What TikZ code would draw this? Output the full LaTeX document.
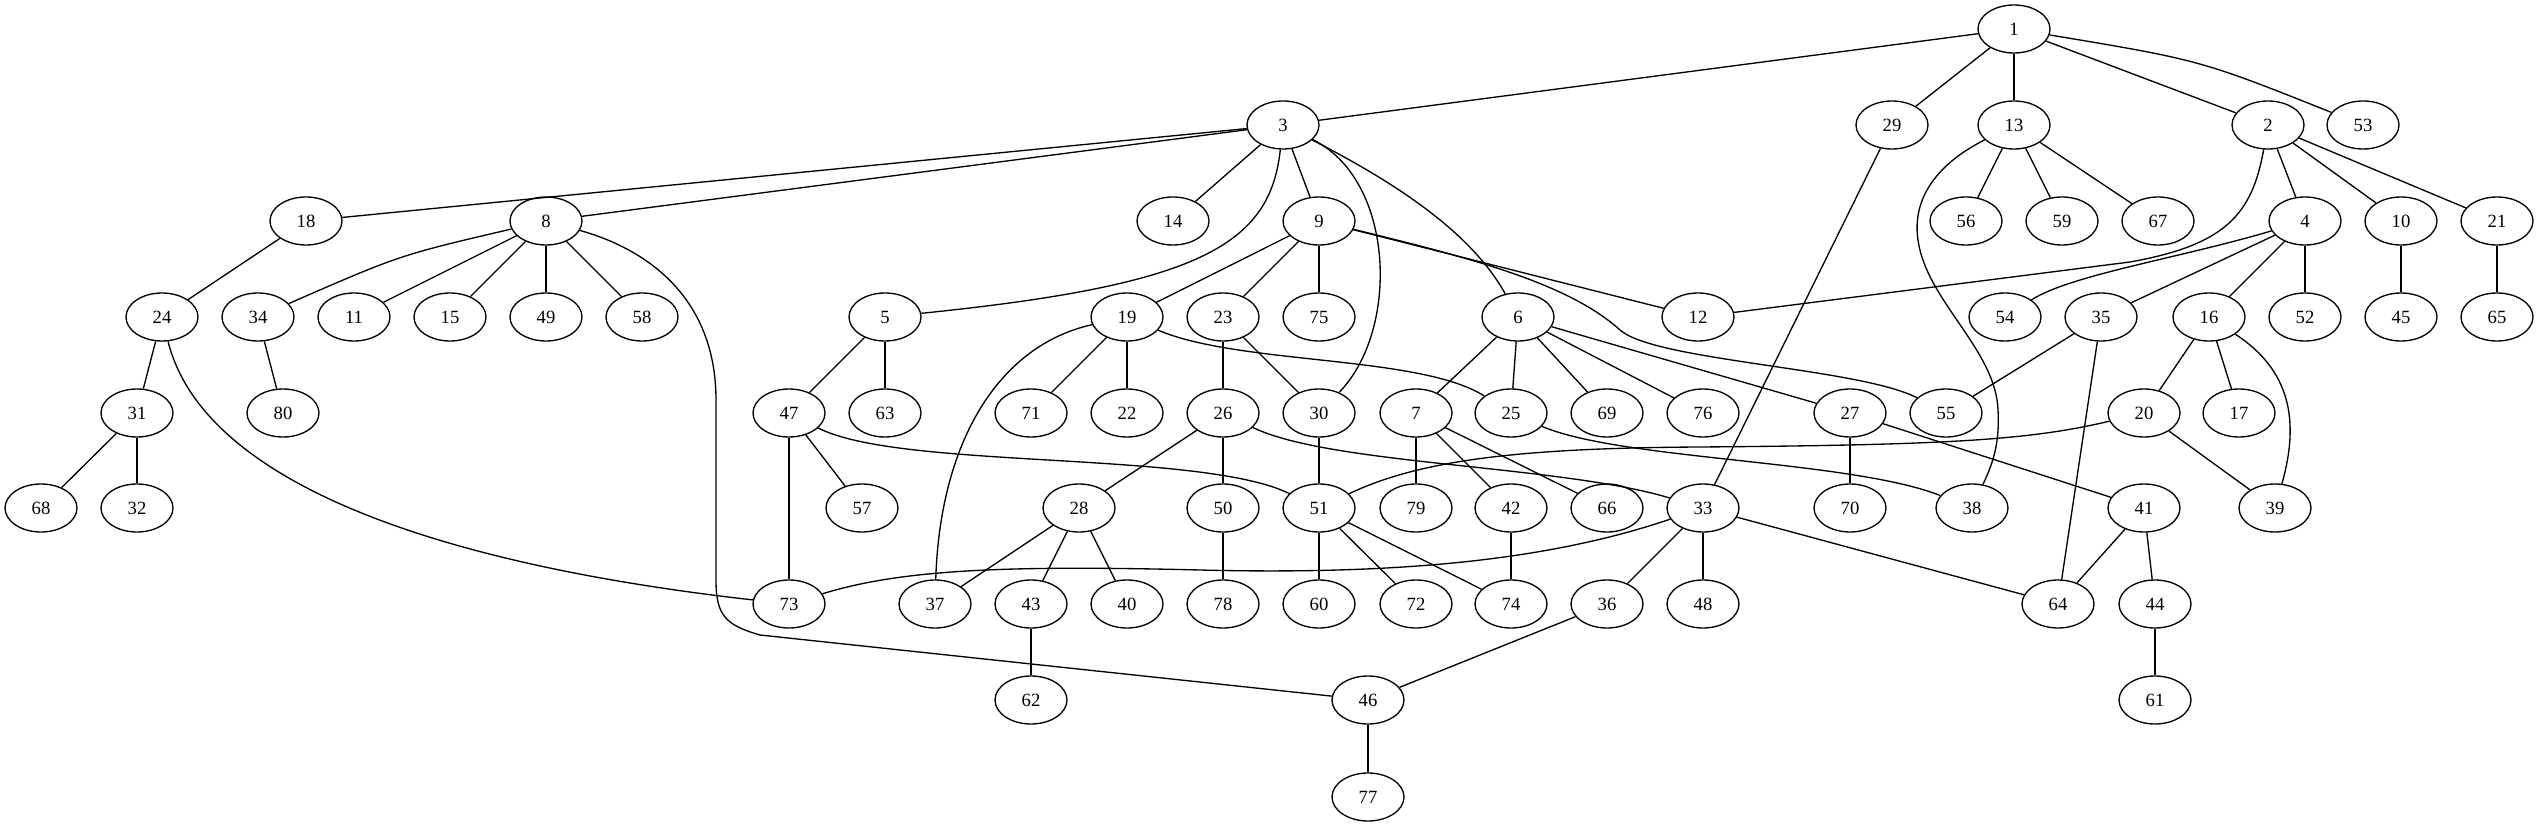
\documentclass[tikz,border=0pt]{standalone}
\usepackage{fontspec}
\setmainfont{Liberation Serif}
\usetikzlibrary{shapes.geometric}

\tikzset{
  vtx/.style={draw, ellipse, line width=1pt, minimum width=54pt, minimum height=36pt,
    inner sep=0pt, font=\fontsize{14}{16}\selectfont},
  edge/.style={line width=1pt}
}

\begin{document}
\begin{tikzpicture}[x=0.75pt, y=-0.75pt]
  \useasboundingbox (0,0) rectangle (2539,827);

  % ranks, top to bottom
  \node[vtx] (n1) at (2014,29) {1};
  \foreach \i/\x in {3/1283, 29/1892, 13/2014, 2/2268, 53/2363}
    \node[vtx] (n\i) at (\x,125) {\i};
  \foreach \i/\x in {18/306, 8/546, 14/1173, 9/1319, 56/1966, 59/2062, 67/2158,
      4/2305, 10/2401, 21/2497}
    \node[vtx] (n\i) at (\x,221) {\i};
  \foreach \i/\x in {24/162, 34/258, 11/354, 15/450, 49/546, 58/642, 5/885, 19/1127,
      23/1223, 75/1319, 6/1518, 12/1698, 54/2005, 35/2101, 16/2209, 52/2305,
      45/2401, 65/2497}
    \node[vtx] (n\i) at (\x,317) {\i};
  \foreach \i/\x in {31/137, 80/283, 47/789, 63/885, 71/1031, 22/1127, 26/1223,
      30/1319, 7/1416, 25/1511, 69/1607, 76/1703, 27/1850, 55/1946, 20/2144, 17/2239}
    \node[vtx] (n\i) at (\x,413) {\i};
  \foreach \i/\x in {68/41, 32/137, 57/862, 28/1079, 50/1223, 51/1319, 79/1416,
      42/1511, 66/1607, 33/1703, 70/1850, 38/1972, 41/2144, 39/2275}
    \node[vtx] (n\i) at (\x,508) {\i};
  \foreach \i/\x in {73/789, 37/935, 43/1031, 40/1127, 78/1223, 60/1319, 72/1416,
      74/1511, 36/1607, 48/1703, 64/2058, 44/2155}
    \node[vtx] (n\i) at (\x,604) {\i};
  \foreach \i/\x in {62/1031, 46/1368, 61/2155}
    \node[vtx] (n\i) at (\x,700) {\i};
  \node[vtx] (n77) at (1368,797) {77};

  % straight edges
  \foreach \a/\b in {1/3, 1/29, 1/13, 1/2, 3/18, 3/8, 3/14, 3/9,
      13/56, 13/59, 13/67, 2/4, 2/10, 2/21, 18/24, 8/11, 8/15, 8/49, 8/58,
      9/19, 9/23, 9/75, 9/12, 4/35, 4/16, 4/52, 10/45, 21/65, 24/31, 34/80,
      5/47, 5/63, 19/71, 19/22, 23/26, 23/30, 6/7, 6/25, 6/69, 6/76, 6/27,
      35/55, 35/64, 16/20, 16/17, 31/68, 31/32, 47/57, 47/73, 26/28, 26/50,
      30/51, 7/79, 7/42, 7/66, 27/70, 27/41, 20/39, 28/37, 28/43, 28/40,
      50/78, 51/60, 51/72, 51/74, 42/74, 29/33, 33/36, 33/48, 33/64,
      41/64, 41/44, 43/62, 36/46, 44/61, 46/77}
    \draw[edge] (n\a) -- (n\b);

  % curved edges
  \draw[edge] (n1) .. controls (2200,60) .. (n53);
  \draw[edge] (n8) .. controls (400,255) .. (n34);
  \draw[edge] (n3) .. controls (1270,245) and (1200,285) .. (n5);
  \draw[edge] (n3) .. controls (1395,180) and (1400,330) .. (n30);
  \draw[edge] (n3) .. controls (1390,180) and (1470,230) .. (n6);
  \draw[edge] (n13) .. controls (1935,165) and (1912,200) .. (1918,240)
    .. controls (1926,300) and (1996,350) .. (1998,410)
    .. controls (2000,445) and (1992,465) .. (n38);
  \draw[edge] (n2) .. controls (2252,215) and (2225,245) .. (2130,262) -- (n12);
  \draw[edge] (n4) .. controls (2180,258) and (2070,275) .. (n54);
  \draw[edge] (n8) .. controls (650,250) and (716,300) .. (716,400) -- (716,580)
    .. controls (716,615) and (725,625) .. (760,635) -- (n46);
  \draw[edge] (n9) .. controls (1480,260) and (1570,285) .. (1620,330)
    .. controls (1655,361) and (1860,368) .. (n55);
  \draw[edge] (n19) .. controls (1000,345) and (940,440) .. (n37);
  \draw[edge] (n19) .. controls (1240,365) and (1420,355) .. (n25);
  \draw[edge] (n24) .. controls (200,470) and (400,560) .. (n73);
  \draw[edge] (n26) .. controls (1330,465) and (1560,465) .. (n33);
  \draw[edge] (n47) .. controls (900,470) and (1200,450) .. (n51);
  \draw[edge] (n20) .. controls (2030,440) and (1950,445) .. (1700,447)
    .. controls (1520,448) and (1420,460) .. (n51);
  \draw[edge] (n25) .. controls (1620,460) and (1850,460) .. (n38);
  \draw[edge] (n16) .. controls (2290,370) and (2300,420) .. (n39);
  \draw[edge] (n33) .. controls (1550,560) and (1400,575) .. (1200,570)
    .. controls (1000,565) and (900,570) .. (n73);
\end{tikzpicture}
\end{document}
